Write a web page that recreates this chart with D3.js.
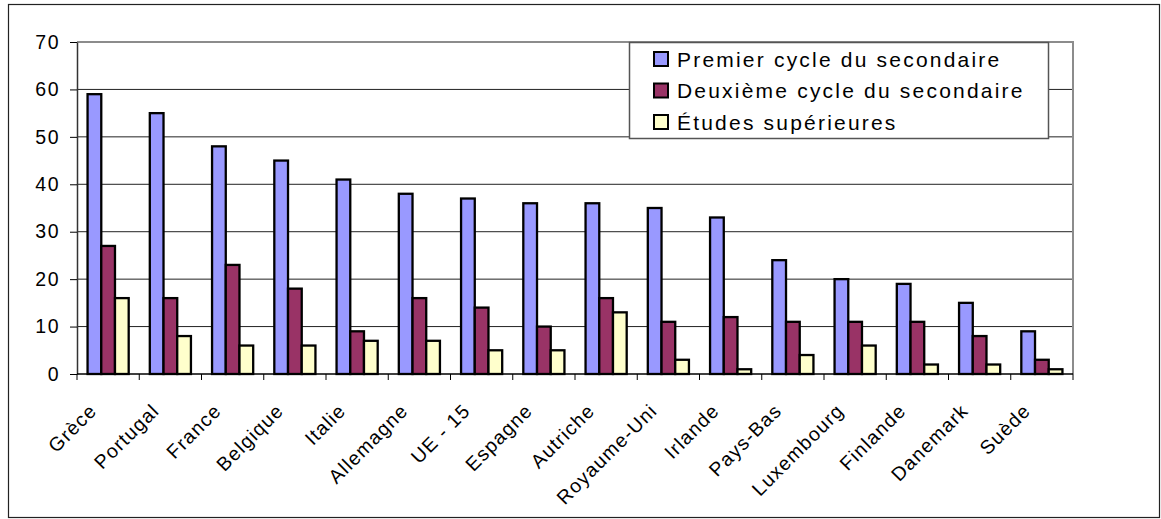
<!DOCTYPE html>
<html>
<head>
<meta charset="utf-8">
<script src="https://cdn.jsdelivr.net/npm/d3@7"></script>
<style>
  body { margin: 0; background: #fff; }
  text { font-family: "Liberation Sans", Arial, sans-serif; fill: #000; }
</style>
</head>
<body>
<div id="chart"></div>
<script>
// categories and series values
const countries = ["Grèce", "Portugal", "France", "Belgique", "Italie", "Allemagne", "UE - 15", "Espagne",
    "Autriche", "Royaume-Uni", "Irlande", "Pays-Bas", "Luxembourg", "Finlande", "Danemark", "Suède"]
const seriesNames = ["Premier cycle du secondaire", "Deuxième cycle du secondaire", "Études supérieures"]
const premierCycle = [59, 55, 48, 45, 41, 38, 37, 36, 36, 35, 33, 24, 20, 19, 15, 9]
const deuxiemeCycle = [27, 16, 23, 18, 9, 16, 14, 10, 16, 11, 12, 11, 11, 11, 8, 3]
const etudesSup = [16, 8, 6, 6, 7, 7, 5, 5, 13, 3, 1, 4, 6, 2, 2, 1]
const yTicks = [0, 10, 20, 30, 40, 50, 60, 70]
const colors = ["#9999FF", "#993366", "#FFFFCC"]

const seriesValues = [premierCycle, deuxiemeCycle, etudesSup]

width = 1161
height = 519

const svg = d3.select("#chart")
    .append("svg")
    .attr("width", width)
    .attr("height", height);

// outer frame
svg.append("rect")
    .attr("x", 8.5).attr("y", 4.5)
    .attr("width", 1151).attr("height", 513)
    .attr("fill", "none")
    .attr("stroke", "#222")
    .attr("stroke-width", 1.2);

const plotLeft = 77, plotRight = 1073, plotTop = 42, plotBottom = 374

const x0 = d3.scaleBand().domain(countries).range([plotLeft, plotRight]).padding(0)
const x1 = d3.scaleBand().domain(seriesNames).range([0, x0.bandwidth()])
    .paddingInner(0).paddingOuter(0.77)
const y = d3.scaleLinear().domain([0, 70]).range([plotBottom, plotTop])

// gridlines
svg.append("g")
    .selectAll("line")
    .data(yTicks.filter(d => d > 0 && d < 70))
    .enter()
    .append("line")
    .attr("x1", plotLeft).attr("x2", plotRight)
    .attr("y1", d => y(d)).attr("y2", d => y(d))
    .attr("stroke", "#222")
    .attr("stroke-width", 1);

// top and right plot border (grey)
svg.append("path")
    .attr("d", `M${plotLeft},${y(70)}H${plotRight}V${plotBottom}`)
    .attr("fill", "none")
    .attr("stroke", "#8c8c8c")
    .attr("stroke-width", 2);

// bars
const groups = svg.append("g")
    .selectAll("g")
    .data(countries)
    .enter()
    .append("g")
    .attr("transform", d => `translate(${x0(d)},0)`);

groups.selectAll("rect")
    .data((d, i) => seriesNames.map((s, j) => ({ s: s, v: seriesValues[j][i], j: j })))
    .enter()
    .append("rect")
    .attr("x", d => x1(d.s))
    .attr("y", d => y(d.v))
    .attr("width", x1.bandwidth())
    .attr("height", d => y(0) - y(d.v))
    .attr("fill", d => colors[d.j])
    .attr("stroke", "#000")
    .attr("stroke-width", 2.3);

// y axis
const yAxis = d3.axisLeft(y).tickValues(yTicks).tickSize(7).tickSizeOuter(0).tickPadding(10)
const yg = svg.append("g")
    .attr("transform", `translate(${plotLeft},0)`)
    .call(yAxis);
yg.select(".domain").attr("stroke", "#333").attr("stroke-width", 1.5);
yg.selectAll(".tick line").attr("stroke", "#000");
yg.selectAll("text")
    .style("font-size", "19.5px")
    .style("letter-spacing", "1.5px")
    .attr("font-family", null);

// x axis: ticks at category boundaries
svg.append("line")
    .attr("x1", plotLeft).attr("x2", plotRight)
    .attr("y1", plotBottom).attr("y2", plotBottom)
    .attr("stroke", "#000").attr("stroke-width", 1.5);

svg.append("g")
    .selectAll("line")
    .data(countries.concat(["end"]))
    .enter()
    .append("line")
    .attr("x1", (d, i) => plotLeft + i * x0.step())
    .attr("x2", (d, i) => plotLeft + i * x0.step())
    .attr("y1", plotBottom).attr("y2", plotBottom + 6)
    .attr("stroke", "#000").attr("stroke-width", 1);

svg.append("g")
    .selectAll("text")
    .data(countries)
    .enter()
    .append("text")
    .attr("transform", d => `translate(${x0(d) + x0.bandwidth() / 2 - 10},${plotBottom + 38}) rotate(-45)`)
    .attr("text-anchor", "end")
    .style("font-size", "19.5px")
    .style("letter-spacing", "1.2px")
    .text(d => d);

// legend
const legend = svg.append("g").attr("transform", "translate(629,42)");
legend.append("rect")
    .attr("x", 0.5).attr("y", 0.5)
    .attr("width", 419).attr("height", 96)
    .attr("fill", "#fff")
    .attr("stroke", "#555")
    .attr("stroke-width", 1.5);

const items = legend.selectAll("g.item")
    .data(seriesNames)
    .enter()
    .append("g")
    .attr("class", "item")
    .attr("transform", (d, i) => `translate(0,${17 + i * 31.5})`);

items.append("rect")
    .attr("x", 25).attr("y", -7)
    .attr("width", 14).attr("height", 14)
    .attr("fill", (d, i) => colors[i])
    .attr("stroke", "#000")
    .attr("stroke-width", 2);

items.append("text")
    .attr("x", 48)
    .attr("y", 7.5)
    .style("font-size", "21px")
    .style("letter-spacing", "2.2px")
    .text(d => d);
</script>
</body>
</html>
